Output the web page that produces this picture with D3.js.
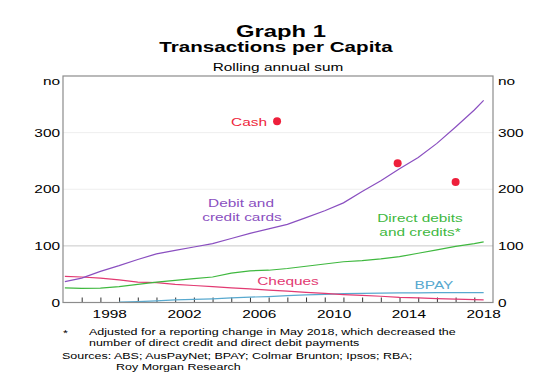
<!DOCTYPE html>
<html>
<head>
<meta charset="utf-8">
<script src="https://cdn.jsdelivr.net/npm/d3@7.9.0/dist/d3.min.js"></script>
<style>
  html, body { margin: 0; padding: 0; background: #fff; }
  svg { display: block; font-family: "Liberation Sans", Arial, sans-serif; }
</style>
</head>
<body>
<svg id="chart" width="550" height="392"></svg>
<script>
// values
const years = [1996.1, 1997, 1998, 1999, 2000, 2001, 2002, 2003, 2004, 2005, 2006, 2007,
  2008, 2009, 2010, 2011, 2012, 2013, 2014, 2015, 2016, 2017, 2018, 2018.5];
const cards = [37, 43, 55, 65, 76, 86, 92, 98, 104, 113, 122, 130,
  138, 150, 162, 176, 196, 215, 236, 256, 281, 310, 340, 357];
const directDebits = [26, 25, 25.5, 28, 32, 36, 39, 42, 45, 52, 56, 57,
  60, 64, 68, 72, 74, 77, 81, 87, 93, 99, 104, 107];
const cheques = [46, 45, 43, 40, 36, 35, 32, 30, 28, 26, 24, 22,
  20, 18, 16, 14, 12.5, 11, 9, 8, 7, 5.8, 5, 4.5];
const bpay = [null, null, null, 0.5, 1.5, 3, 4.5, 5.5, 6.5, 8, 9.5, 10.5,
  12, 13.5, 14.5, 15.5, 16, 16.5, 17, 17, 17.5, 17.5, 17.5, 17.5];
const cashYears = [2007.45, 2013.9, 2017.0];
const cash = [320, 246, 213];

const yTicks = [0, 100, 200, 300];
const yearLabels = [1998, 2002, 2006, 2010, 2014, 2018];

const svg = d3.select("#chart");
const x = d3.scaleLinear().domain([1996, 2019]).range([63, 493]);
const y = d3.scaleLinear().domain([0, 400]).range([302.5, 76]);

// text is stretched sideways in the reference
function label(g, txt, px, py, opts) {
  const o = Object.assign({ size: 11.5, sx: 1.34, anchor: "start", fill: "#000", weight: "normal" }, opts);
  return g.append("text")
    .attr("transform", `translate(${px},${py}) scale(${o.sx},1)`)
    .attr("text-anchor", o.anchor)
    .attr("font-size", o.size)
    .attr("font-weight", o.weight)
    .attr("fill", o.fill)
    .text(txt);
}

// titles
label(svg, "Graph 1", 281, 37, { size: 17, sx: 1.4, anchor: "middle", weight: "bold" });
label(svg, "Transactions per Capita", 276, 52, { size: 14.5, sx: 1.42, anchor: "middle", weight: "bold" });
label(svg, "Rolling annual sum", 278, 71, { size: 11.3, sx: 1.36, anchor: "middle" });

// gridlines
svg.append("g").selectAll("line")
  .data(yTicks.filter(d => d > 0))
  .join("line")
  .attr("x1", x.range()[0]).attr("x2", x.range()[1])
  .attr("y1", d => y(d)).attr("y2", d => y(d))
  .attr("stroke", d => d === 100 ? "#c8c8c8" : "#eeeeee")
  .attr("stroke-width", 1);

// year ticks, pointing up from the baseline
const xAxis = d3.axisBottom(x)
  .tickValues(d3.range(1997, 2019))
  .tickSize(-5)
  .tickFormat("");
const gx = svg.append("g").attr("transform", `translate(0,${y(0)})`).call(xAxis);
gx.select(".domain").remove();
gx.selectAll("line").attr("stroke", "#333").attr("stroke-width", 1);

// series
const line = d3.line()
  .defined(d => d[1] != null)
  .x(d => x(d[0]))
  .y(d => y(d[1]));

const series = [
  { values: bpay, color: "#58a9cf" },
  { values: cheques, color: "#e23a72" },
  { values: directDebits, color: "#3fb83f" },
  { values: cards, color: "#8a4fc0" }
];
svg.append("g").selectAll("path")
  .data(series)
  .join("path")
  .attr("d", s => line(years.map((yr, i) => [yr, s.values[i]])))
  .attr("fill", "none")
  .attr("stroke", s => s.color)
  .attr("stroke-width", 1.2);

svg.append("g").selectAll("circle")
  .data(cashYears.map((yr, i) => [yr, cash[i]]))
  .join("circle")
  .attr("cx", d => x(d[0]))
  .attr("cy", d => y(d[1]))
  .attr("r", 4)
  .attr("fill", "#ee1f3b");

// frame
svg.append("rect")
  .attr("x", x.range()[0]).attr("y", y.range()[1])
  .attr("width", x.range()[1] - x.range()[0])
  .attr("height", y.range()[0] - y.range()[1])
  .attr("fill", "none")
  .attr("stroke", "#8c8c8c")
  .attr("stroke-width", 1.2);

// axis labels
const axisText = svg.append("g");
yTicks.forEach(v => {
  label(axisText, String(v), 60, y(v) + 4, { anchor: "end" });
  label(axisText, String(v), 498, y(v) + 4);
});
label(axisText, "no", 60, 85, { anchor: "end" });
label(axisText, "no", 498, 85);
yearLabels.forEach(yr => {
  label(axisText, String(yr), x(yr + 0.5), 318, { anchor: "middle" });
});

// series labels
const notes = svg.append("g");
label(notes, "Cash", 267, 126, { anchor: "end", fill: "#ee1f3b" });
label(notes, "Debit and", 241, 207, { anchor: "middle", fill: "#8a4fc0" });
label(notes, "credit cards", 242, 221, { anchor: "middle", fill: "#8a4fc0" });
label(notes, "Direct debits", 420, 222, { anchor: "middle", fill: "#3fb83f" });
label(notes, "and credits*", 420, 236, { anchor: "middle", fill: "#3fb83f" });
label(notes, "Cheques", 288, 285, { anchor: "middle", fill: "#e23a72" });
label(notes, "BPAY", 434, 289, { anchor: "middle", fill: "#58a9cf" });

// footnotes
const foot = svg.append("g");
const fs = { size: 9.6, sx: 1.3 };
label(foot, "*", 63, 336, fs);
label(foot, "Adjusted for a reporting change in May 2018, which decreased the", 89, 335, fs);
label(foot, "number of direct credit and direct debit payments", 89, 346, fs);
label(foot, "Sources: ABS; AusPayNet; BPAY; Colmar Brunton; Ipsos; RBA;", 62, 359, fs);
label(foot, "Roy Morgan Research", 116, 370, fs);
</script>
</body>
</html>
